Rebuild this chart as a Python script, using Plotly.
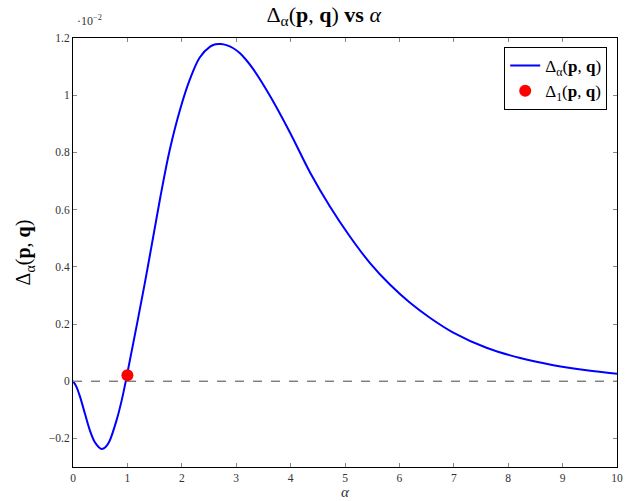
import plotly.graph_objects as go

# values in units of 1e-2
alpha = [0, 0.06, 0.13, 0.22, 0.31, 0.40, 0.47, 0.53, 0.60, 0.67, 0.80, 0.895, 0.97, 1.32, 1.60,
         1.78, 1.97, 2.15, 2.33, 2.52, 2.62, 2.72, 2.82, 2.94, 3.06, 3.18, 3.31, 3.62, 3.99, 4.36,
         4.72, 5.09, 5.46, 5.83, 6.19, 6.56, 6.99, 7.60, 8.22, 8.83, 9.44, 10.0]
delta = [0, -0.018, -0.055, -0.114, -0.172, -0.213, -0.230, -0.237, -0.230, -0.210, -0.137, -0.067,
         0, 0.343, 0.638, 0.81, 0.951, 1.056, 1.132, 1.170, 1.178, 1.179, 1.175, 1.165, 1.148, 1.124,
         1.092, 0.998, 0.869, 0.729, 0.612, 0.506, 0.413, 0.337, 0.275, 0.222, 0.170, 0.117, 0.081,
         0.056, 0.038, 0.026]
point_alpha = [1.0]
point_delta = [0.021]
x_ticks = list(range(0, 11))
y_ticks = [-0.2, 0, 0.2, 0.4, 0.6, 0.8, 1.0, 1.2]
y_ticklabels = ["−0.2", "0", "0.2", "0.4", "0.6", "0.8", "1", "1.2"]

FONT = "Liberation Serif"

fig = go.Figure()
fig.add_trace(go.Scatter(x=[0, 10], y=[0, 0], mode="lines",
                         line=dict(color="#444444", width=1, dash="dash"),
                         showlegend=False, hoverinfo="skip"))
fig.add_trace(go.Scatter(x=alpha, y=delta, mode="lines",
                         line=dict(color="#0000ff", width=2, shape="spline", smoothing=1.0),
                         name="Δ<sub>α</sub>(<b>p</b>, <b>q</b>)"))
fig.add_trace(go.Scatter(x=point_alpha, y=point_delta, mode="markers",
                         marker=dict(color="#ff0000", size=12),
                         name="Δ<sub>1</sub>(<b>p</b>, <b>q</b>)"))

axis_common = dict(showgrid=False, zeroline=False, showline=True, linecolor="black", linewidth=1,
                   mirror="ticks", ticks="inside", ticklen=4, tickcolor="#888888", tickwidth=1,
                   automargin=False,
                   tickfont=dict(family=FONT, size=11.5, color="#333333"))

fig.update_layout(
    width=641, height=501,
    margin=dict(l=73, r=24, t=38, b=34),
    paper_bgcolor="white", plot_bgcolor="white",
    font=dict(family=FONT, color="black"),
    title=dict(text="Δ<sub>α</sub>(<b>p</b>, <b>q</b>) <b>vs</b> <i>α</i>", x=0.505, xanchor="center",
               y=0.972, yanchor="middle", font=dict(size=22, family=FONT)),
    xaxis=dict(range=[0, 10], tickvals=x_ticks, **axis_common),
    yaxis=dict(range=[-0.3, 1.2], tickvals=y_ticks, ticktext=y_ticklabels,
               title=dict(text="Δ<sub>α</sub>(<b>p</b>, <b>q</b>)", font=dict(size=20, family=FONT), standoff=12),
               **axis_common),
    legend=dict(x=0.982, y=0.979, xanchor="right", yanchor="top", bgcolor="white",
                bordercolor="black", borderwidth=1, font=dict(size=17, family=FONT),
                tracegroupgap=0, itemwidth=30),
    annotations=[
        dict(text="·10<sup>−2</sup>", x=0, y=1, xref="paper", yref="paper",
             xanchor="left", yanchor="bottom", xshift=2, yshift=8, showarrow=False,
             font=dict(size=12, family=FONT, color="#333333")),
        dict(text="<i>α</i>", x=0.5, y=0, xref="paper", yref="paper",
             xanchor="center", yanchor="top", yshift=-15,
             showarrow=False, font=dict(size=15, family=FONT, color="#333333")),
    ],
)

fig.write_html("out.html", config={"displayModeBar": False},
               post_script="document.body.style.margin='0';")
